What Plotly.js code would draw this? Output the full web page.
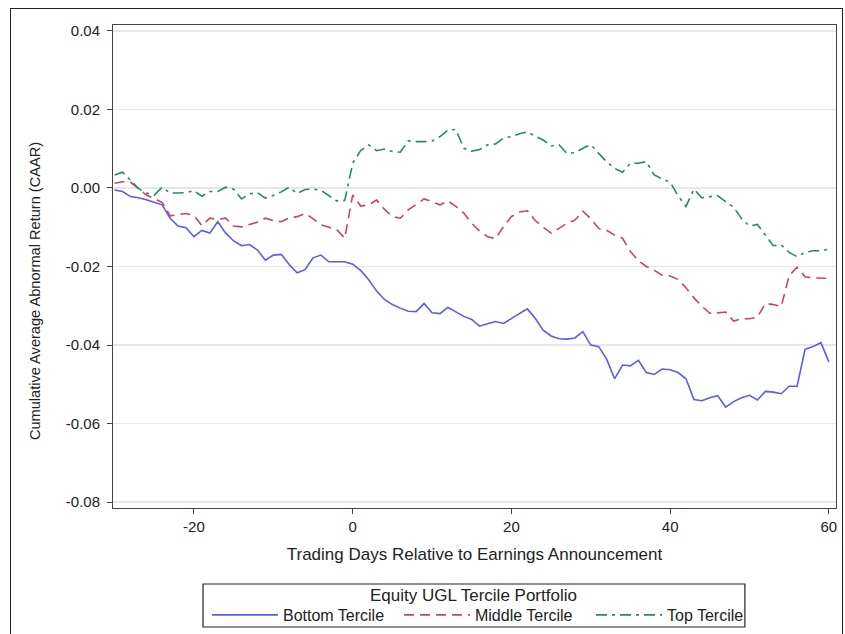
<!DOCTYPE html>
<html>
<head>
<meta charset="utf-8">
<script src="https://cdn.plot.ly/plotly-3.0.1.min.js"></script>
<style>
  html, body { margin: 0; padding: 0; background: #ffffff; }
  #wrap { position: relative; width: 845px; height: 634px; overflow: hidden; }
  #frame { position: absolute; left: 10px; top: 8px; width: 833px; height: 660px; border: 1px solid #222; box-sizing: border-box; pointer-events: none; }
  #chart { position: absolute; left: 0; top: 0; width: 845px; height: 634px; }
</style>
</head>
<body>
<div id="wrap">
  <div id="chart"></div>
  <div id="frame"></div>
</div>
<script>
const days = [-30,-29,-28,-27,-26,-25,-24,-23,-22,-21,-20,-19,-18,-17,-16,-15,-14,-13,-12,-11,
  -10,-9,-8,-7,-6,-5,-4,-3,-2,-1,0,1,2,3,4,5,6,7,8,9,10,11,12,13,14,15,16,17,18,19,20,
  21,22,23,24,25,26,27,28,29,30,31,32,33,34,35,36,37,38,39,40,41,42,43,44,45,46,47,48,49,50,
  51,52,53,54,55,56,57,58,59,60];

const bottomTercile = [-0.0005,-0.0009,-0.0022,-0.0025,-0.0030,-0.0037,-0.0043,-0.0077,-0.0097,-0.0101,
  -0.0124,-0.0108,-0.0115,-0.0086,-0.0115,-0.0135,-0.0147,-0.0144,-0.0158,-0.0184,
  -0.0171,-0.0169,-0.0195,-0.0216,-0.0208,-0.0178,-0.0171,-0.0188,-0.0188,-0.0188,
  -0.0194,-0.0210,-0.0233,-0.0262,-0.0284,-0.0297,-0.0306,-0.0314,-0.0315,-0.0294,
  -0.0318,-0.0320,-0.0304,-0.0315,-0.0327,-0.0335,-0.0352,-0.0346,-0.0340,-0.0345,
  -0.0332,-0.0319,-0.0308,-0.0332,-0.0362,-0.0377,-0.0384,-0.0385,-0.0382,-0.0366,
  -0.0400,-0.0404,-0.0436,-0.0486,-0.0451,-0.0453,-0.0439,-0.0470,-0.0475,-0.0461,
  -0.0463,-0.0470,-0.0486,-0.0539,-0.0542,-0.0534,-0.0529,-0.0558,-0.0544,-0.0534,
  -0.0528,-0.0540,-0.0518,-0.0520,-0.0524,-0.0505,-0.0505,-0.0411,-0.0404,-0.0394,-0.0443];

const middleTercile = [0.0012,0.0016,0.0015,-0.0002,-0.0018,-0.0027,-0.0037,-0.0071,-0.0068,-0.0065,
  -0.0070,-0.0096,-0.0077,-0.0080,-0.0077,-0.0097,-0.0099,-0.0093,-0.0087,-0.0077,
  -0.0083,-0.0086,-0.0076,-0.0073,-0.0065,-0.0078,-0.0094,-0.0100,-0.0106,-0.0128,
  -0.0018,-0.0046,-0.0043,-0.0031,-0.0054,-0.0073,-0.0077,-0.0056,-0.0041,-0.0028,
  -0.0035,-0.0043,-0.0033,-0.0047,-0.0064,-0.0090,-0.0110,-0.0124,-0.0129,-0.0099,
  -0.0073,-0.0061,-0.0058,-0.0083,-0.0100,-0.0115,-0.0103,-0.0090,-0.0082,-0.0059,
  -0.0078,-0.0103,-0.0108,-0.0120,-0.0128,-0.0162,-0.0185,-0.0200,-0.0210,-0.0222,
  -0.0224,-0.0233,-0.0254,-0.0280,-0.0301,-0.0319,-0.0318,-0.0316,-0.0339,-0.0333,
  -0.0333,-0.0329,-0.0294,-0.0297,-0.0302,-0.0223,-0.0202,-0.0226,-0.0229,-0.0229,-0.0230];

const topTercile = [0.0033,0.0040,0.0020,-0.0001,-0.0013,-0.0018,0.0002,-0.0013,-0.0013,-0.0012,
  -0.0007,-0.0021,-0.0009,-0.0009,0.0002,-0.0003,-0.0028,-0.0015,-0.0012,-0.0026,
  -0.0019,-0.0010,0.0002,-0.0014,-0.0004,-0.0003,-0.0006,-0.0020,-0.0033,-0.0032,
  0.0063,0.0095,0.0110,0.0095,0.0099,0.0093,0.0091,0.0120,0.0118,0.0118,
  0.0119,0.0131,0.0147,0.0149,0.0101,0.0094,0.0098,0.0110,0.0112,0.0127,
  0.0131,0.0138,0.0143,0.0132,0.0122,0.0107,0.0110,0.0088,0.0090,0.0101,
  0.0110,0.0088,0.0067,0.0050,0.0040,0.0063,0.0063,0.0067,0.0033,0.0023,
  0.0015,-0.0020,-0.0047,-0.0003,-0.0025,-0.0022,-0.0020,-0.0035,-0.0049,-0.0078,
  -0.0097,-0.0093,-0.0120,-0.0147,-0.0145,-0.0164,-0.0175,-0.0164,-0.0160,-0.0160,-0.0156];

const seriesNames = ["Bottom Tercile", "Middle Tercile", "Top Tercile"];
const legendTitle = "Equity UGL Tercile Portfolio";
const xTitle = "Trading Days Relative to Earnings Announcement";
const yTitle = "Cumulative Average Abnormal Return (CAAR)";
const xTickVals = [-20, 0, 20, 40, 60];
const xTickLabels = ["-20", "0", "20", "40", "60"];
const yTickVals = [0.04, 0.02, 0.00, -0.02, -0.04, -0.06, -0.08];
const yTickLabels = ["0.04", "0.02", "0.00", "-0.02", "-0.04", "-0.06", "-0.08"];

const FONT = "Liberation Sans, Arial, sans-serif";

const traces = [
  { x: days, y: bottomTercile, name: seriesNames[0], type: "scatter", mode: "lines",
    line: { color: "#5b5bef", width: 1.6 } },
  { x: days, y: middleTercile, name: seriesNames[1], type: "scatter", mode: "lines",
    line: { color: "#cc4459", width: 1.6, dash: "10px,6px" } },
  { x: days, y: topTercile, name: seriesNames[2], type: "scatter", mode: "lines",
    line: { color: "#2b8577", width: 1.6, dash: "11px,5px,3px,5px" } }
];

const layout = {
  width: 845, height: 634,
  margin: { l: 113, r: 9, t: 25, b: 126, autoexpand: false },
  paper_bgcolor: "rgba(0,0,0,0)",
  plot_bgcolor: "#ffffff",
  font: { family: FONT, size: 15, color: "#222" },
  showlegend: true,
  xaxis: {
    range: [-30.2, 60.9], automargin: false,
    tickmode: "array", tickvals: xTickVals, ticktext: xTickLabels,
    ticks: "outside", ticklen: 5, tickcolor: "#444", tickwidth: 1,
    showgrid: false, zeroline: false,
    showline: true, linecolor: "#444", linewidth: 1, mirror: true,
    tickfont: { family: FONT, size: 15, color: "#222" },
    title: { text: xTitle, font: { family: FONT, size: 17, color: "#222" }, standoff: 14 }
  },
  yaxis: {
    range: [-0.0815, 0.0415], automargin: false,
    tickmode: "array", tickvals: yTickVals, ticktext: yTickLabels,
    ticks: "outside", ticklen: 5, tickcolor: "#444", tickwidth: 1,
    ticklabelstandoff: 4,
    showgrid: true, gridcolor: "#e6e6e6", gridwidth: 1.5, zeroline: false,
    showline: true, linecolor: "#444", linewidth: 1, mirror: true,
    tickfont: { family: FONT, size: 15, color: "#222" }
  },
  annotations: [
    { text: yTitle, xref: "paper", yref: "paper", x: -0.1079, y: 0.449,
      xanchor: "center", yanchor: "middle", textangle: -90, showarrow: false,
      font: { family: FONT, size: 14.6, color: "#222" } },
    { text: legendTitle, xref: "paper", yref: "paper", x: 0.4993, y: -0.181,
      xanchor: "center", yanchor: "middle", showarrow: false,
      font: { family: FONT, size: 17, color: "#222" } }
  ],
  shapes: [
    { type: "rect", xref: "paper", yref: "paper", x0: 0.1245, x1: 0.874, y0: -0.2464, y1: -0.1573,
      line: { color: "#222", width: 1.2 }, fillcolor: "rgba(0,0,0,0)", layer: "below" }
  ],
  legend: {
    orientation: "h",
    x: 0.130, xanchor: "left",
    y: -0.2215, yanchor: "middle",
    borderwidth: 0, bgcolor: "rgba(0,0,0,0)",
    font: { family: FONT, size: 16, color: "#222" },
    itemwidth: 66,
    entrywidth: 111, entrywidthmode: "pixels",
    tracegroupgap: 0
  }
};

Plotly.newPlot("chart", traces, layout, { displayModeBar: false, staticPlot: true });
</script>
</body>
</html>
